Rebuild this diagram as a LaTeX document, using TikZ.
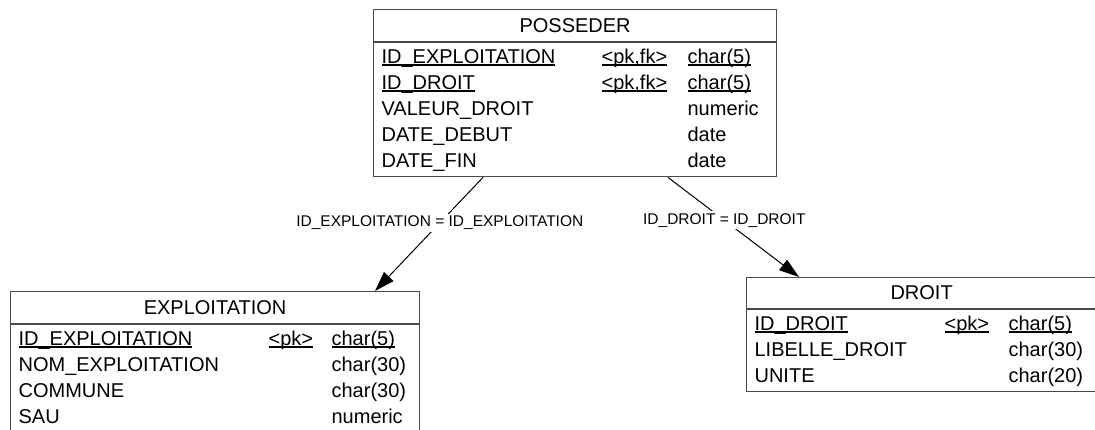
\documentclass[tikz,border=0pt]{standalone}
\usepackage{fontspec}
\setmainfont{Liberation Sans}
\usepackage{tikz}
\usetikzlibrary{arrows.meta, positioning, calc}
\definecolor{entline}{HTML}{4A4A4A}
\newcommand\keyul[1]{\leavevmode\setbox0\hbox{#1}\rlap{\rule[-0.14em]{\wd0}{0.07em}}\box0}
\tikzset{
  entttl/.style  = {font=\fontsize{20}{26}\selectfont, draw=entline, fill=white,
                     line width=1.2pt, minimum height=32pt, inner sep=0pt,
                     anchor=north west},
  entbody/.style = {font=\fontsize{20}{26}\selectfont, align=left,
                     draw=entline, fill=white, line width=1.2pt,
                     inner xsep=8pt, inner ysep=2pt},
  fkarr/.style   = {draw=black, line width=1pt,
                     -{Triangle[length=20pt, width=13pt]}},
  fklbl/.style   = {font=\fontsize{15.5}{18}\selectfont, fill=white,
                     inner sep=2pt},
}

\begin{document}
\begin{tikzpicture}[x=1pt, y=-1pt]
        \useasboundingbox (0,0) rectangle (1095,429);
        \clip (0,0) rectangle (1095,429);

        \node[entttl, minimum width=403pt] (possttl) at (373,9) {POSSEDER};
        \node[entbody, below=0pt of possttl] (possbody)
             {\begin{tabular}{@{}p{220pt}@{}p{86pt}@{}p{81pt}@{}}
              \keyul{ID\_EXPLOITATION} & \keyul{<pk,fk>} & \keyul{char(5)}\\
              \keyul{ID\_DROIT}        & \keyul{<pk,fk>} & \keyul{char(5)}\\
              VALEUR\_DROIT            &                 & numeric\\
              DATE\_DEBUT              &                 & date\\
              DATE\_FIN                &                 & date
              \end{tabular}};

        \node[entttl, minimum width=409pt] (explttl) at (10,291) {EXPLOITATION};
        \node[entbody, below=0pt of explttl] (explbody)
             {\begin{tabular}{@{}p{250pt}@{}p{63pt}@{}p{80pt}@{}}
              \keyul{ID\_EXPLOITATION} & \keyul{<pk>} & \keyul{char(5)}\\
              NOM\_EXPLOITATION        &              & char(30)\\
              COMMUNE                  &              & char(30)\\
              SAU                      &              & numeric
              \end{tabular}};

        \node[entttl, minimum width=350pt, minimum height=31pt] (droitttl) at (746,277) {DROIT};
        \node[entbody, below=0pt of droitttl] (droitbody)
             {\begin{tabular}{@{}p{190pt}@{}p{64pt}@{}p{80pt}@{}}
              \keyul{ID\_DROIT} & \keyul{<pk>} & \keyul{char(5)}\\
              LIBELLE\_DROIT    &              & char(30)\\
              UNITE             &              & char(20)
              \end{tabular}};

        \draw[fkarr] ($(possbody.south west)+(110,0)$)
             -- node[fklbl, pos=0.4] {ID\_EXPLOITATION = ID\_EXPLOITATION}
             ($(explttl.north west)+(365,0)$);
        \draw[fkarr] ($(possbody.south west)+(295,0)$)
             -- node[fklbl, pos=0.43] {ID\_DROIT = ID\_DROIT}
             ($(droitttl.north west)+(53,0)$);
    \end{tikzpicture}
\end{document}
